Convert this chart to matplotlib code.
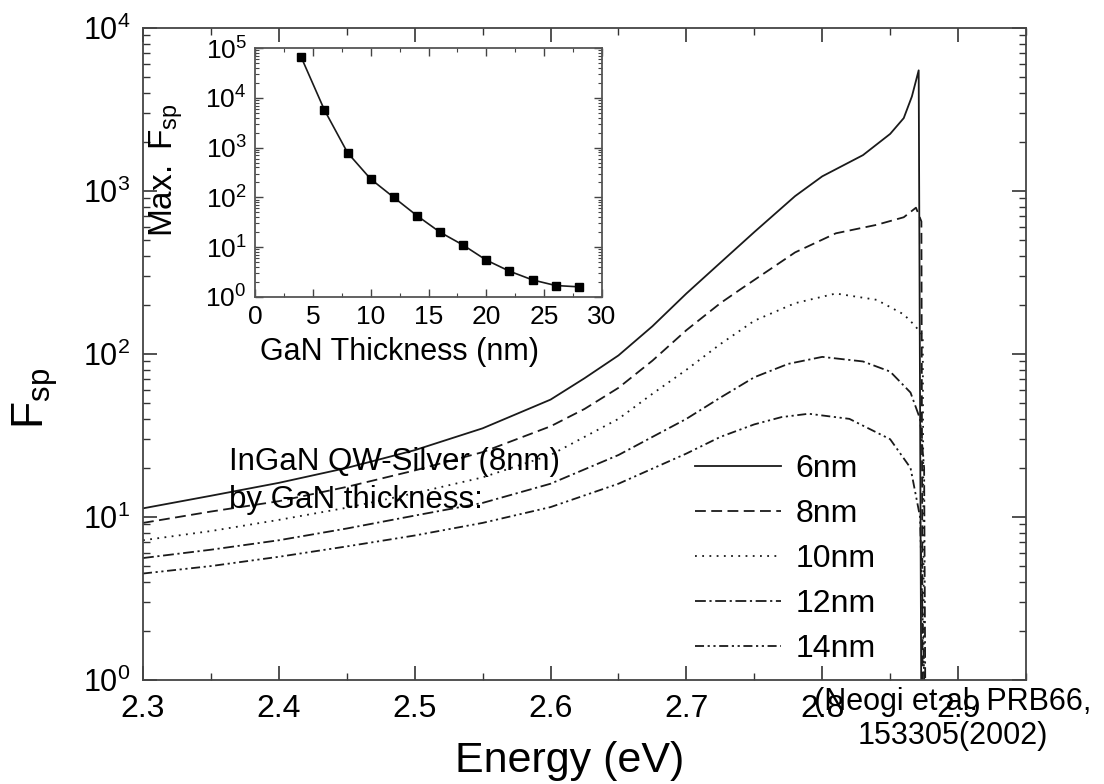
import math
import matplotlib
matplotlib.use("Agg")
import matplotlib.pyplot as plt
from matplotlib.ticker import MultipleLocator, LogLocator, FuncFormatter, NullFormatter

plt.rcParams['font.family'] = ['Liberation Sans', 'DejaVu Sans']
plt.rcParams['mathtext.fontset'] = 'custom'
plt.rcParams['mathtext.rm'] = 'Liberation Sans'
plt.rcParams['mathtext.it'] = 'Liberation Sans:italic'

# main curves: F_sp vs energy for each GaN thickness
e_6nm = [2.30, 2.35, 2.40, 2.45, 2.50, 2.55, 2.60, 2.625, 2.65, 2.675, 2.70, 2.725, 2.75, 2.78, 2.80,
         2.83, 2.85, 2.86, 2.866, 2.871, 2.873]
f_6nm = [11.3, 13.5, 16.2, 20, 25.7, 35, 52.5, 71, 98, 148, 235, 363, 560, 930, 1230,
         1660, 2240, 2800, 3800, 5500, 0.5]

e_8nm = [2.30, 2.35, 2.40, 2.45, 2.50, 2.55, 2.60, 2.625, 2.65, 2.675, 2.70, 2.725, 2.74, 2.78,
         2.81, 2.84, 2.86, 2.869, 2.873, 2.874]
f_8nm = [9.2, 10.8, 12.5, 15.3, 19.3, 25, 36, 46, 62, 91, 140, 205, 250, 420,
         550, 620, 690, 790, 650, 0.5]

e_10nm = [2.30, 2.35, 2.40, 2.45, 2.50, 2.55, 2.60, 2.625, 2.65, 2.675, 2.70, 2.725, 2.75, 2.78,
          2.81, 2.84, 2.86, 2.868, 2.874, 2.875]
f_10nm = [7.2, 8.2, 9.6, 11.4, 14, 17.5, 24, 31, 40, 57, 80, 115, 160, 205,
          235, 215, 175, 150, 130, 0.5]

e_12nm = [2.30, 2.35, 2.40, 2.45, 2.50, 2.55, 2.60, 2.65, 2.675, 2.70, 2.725, 2.75, 2.775, 2.80,
          2.83, 2.85, 2.865, 2.872, 2.875, 2.876]
f_12nm = [5.6, 6.3, 7.2, 8.5, 10.2, 12.2, 16, 24, 31, 40, 54, 72, 87, 96,
          90, 78, 58, 40, 20, 0.5]

e_14nm = [2.30, 2.35, 2.40, 2.45, 2.50, 2.55, 2.60, 2.65, 2.70, 2.725, 2.75, 2.77, 2.79, 2.82,
          2.85, 2.865, 2.872, 2.876]
f_14nm = [4.5, 5.0, 5.7, 6.6, 7.7, 9.2, 11.5, 16, 24.5, 31, 37, 41, 43, 40,
          30, 20, 10, 0.5]

labels = ['6nm', '8nm', '10nm', '12nm', '14nm']

# inset: max F_sp vs GaN thickness
thickness = [4, 6, 8, 10, 12, 14, 16, 18, 20, 22, 24, 26, 28]
max_fsp = [6.5e4, 5.7e3, 790, 234, 100, 43, 20, 11, 5.5, 3.3, 2.2, 1.7, 1.6]

W, H = 1104, 784
fig = plt.figure(figsize=(W / 100, H / 100), dpi=100)


def fx(px):
    return px / W


def fy(py):
    return 1 - py / H


def pow10(v, pos):
    return r'$\mathregular{10^{%d}}$' % round(math.log10(v))


ax = fig.add_axes([fx(143), fy(680), fx(1026) - fx(143), fy(28) - fy(680)])

styles = [
    '-',
    (0, (6, 3)),
    (0, (1, 3)),
    (0, (6, 2, 1.2, 2)),
    (0, (5, 2, 1.2, 2, 1.2, 2)),
]
series = [(e_6nm, f_6nm), (e_8nm, f_8nm), (e_10nm, f_10nm), (e_12nm, f_12nm), (e_14nm, f_14nm)]
for (e, f), ls, lab in zip(series, styles, labels):
    ax.plot(e, f, color='#1a1a1a', lw=1.3, ls=ls, label=lab)

ax.set_yscale('log')
ax.set_xlim(2.3, 2.95)
ax.set_ylim(1, 1e4)
ax.xaxis.set_major_locator(MultipleLocator(0.1))
ax.xaxis.set_minor_locator(MultipleLocator(0.05))
ax.xaxis.set_major_formatter(FuncFormatter(lambda v, p: f'{v:.1f}'))
ax.yaxis.set_major_locator(LogLocator(base=10, numticks=10))
ax.yaxis.set_minor_locator(LogLocator(base=10, subs=range(2, 10), numticks=10))
ax.yaxis.set_minor_formatter(NullFormatter())
ax.yaxis.set_major_formatter(FuncFormatter(pow10))
ax.tick_params(which='both', direction='in', top=True, right=True, colors='#333333')
ax.tick_params(which='major', length=10, width=1.2, labelsize=23, labelcolor='black')
ax.tick_params(which='minor', length=5, width=1.0)
ax.tick_params(axis='x', pad=10)
ax.tick_params(axis='y', pad=9, labelsize=22)
for s in ax.spines.values():
    s.set_color('#444444')
    s.set_linewidth(1.3)

fig.text(fx(570), fy(761), 'Energy (eV)', fontsize=31, ha='center', va='center')
fig.text(fx(35), fy(398), r'$\mathregular{F_{sp}}$', fontsize=32, rotation=90, ha='center', va='center')

ax.legend(loc='upper left', bbox_to_anchor=(fx(695), fy(454)), bbox_transform=fig.transFigure,
          frameon=False, fontsize=23, handlelength=2.7, handletextpad=0.45,
          labelspacing=0.47, borderpad=0, borderaxespad=0)

fig.text(fx(229), fy(462), 'InGaN QW-Silver (8nm)', fontsize=22.5, ha='left', va='center')
fig.text(fx(229), fy(500), 'by GaN thickness:', fontsize=22.5, ha='left', va='center')
fig.text(fx(953), fy(719), '(Neogi et al. PRB66,\n153305(2002)', fontsize=22, ha='center', va='center',
         multialignment='center', linespacing=1.2)

# inset
ins = fig.add_axes([fx(255), fy(297), fx(602) - fx(255), fy(48) - fy(297)])
ins.plot(thickness, max_fsp, color='#1a1a1a', lw=1.2, marker='s', ms=6, mfc='black', mec='black')
ins.set_yscale('log')
ins.set_xlim(0, 30)
ins.set_ylim(1, 1e5)
ins.xaxis.set_major_locator(MultipleLocator(5))
ins.xaxis.set_minor_locator(MultipleLocator(2.5))
ins.yaxis.set_major_locator(LogLocator(base=10, numticks=10))
ins.yaxis.set_minor_locator(LogLocator(base=10, subs=range(2, 10), numticks=10))
ins.yaxis.set_minor_formatter(NullFormatter())
ins.yaxis.set_major_formatter(FuncFormatter(pow10))
ins.tick_params(which='both', direction='in', top=True, right=True, colors='#444444')
ins.tick_params(which='major', length=6, width=1.0, labelsize=19, labelcolor='black', pad=6)
ins.tick_params(which='minor', length=3, width=0.8)
for s in ins.spines.values():
    s.set_color('#555555')
    s.set_linewidth(1.3)
fig.text(fx(400), fy(352), 'GaN Thickness (nm)', fontsize=22, ha='center', va='center')
fig.text(fx(166), fy(170), r'$\mathregular{Max.\ F_{sp}}$', fontsize=24, rotation=90, ha='center', va='center')

fig.savefig('out.png', dpi=100)
